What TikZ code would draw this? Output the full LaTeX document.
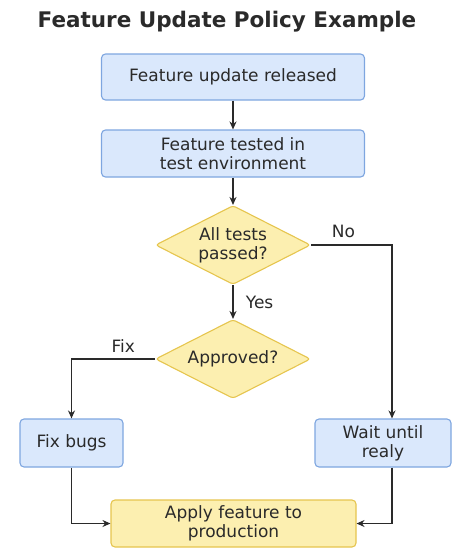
\documentclass[tikz,border=0pt]{standalone}
\usepackage{fontspec}
\setmainfont{DejaVu Sans}
\usetikzlibrary{shapes.geometric,arrows.meta}
\definecolor{boxblue}{HTML}{DAE8FC}
\definecolor{lineblue}{HTML}{7EA6E0}
\definecolor{boxyellow}{HTML}{FCEFB0}
\definecolor{lineyellow}{HTML}{E6C54E}
\definecolor{ink}{HTML}{2A2A2A}

\begin{document}
\begin{tikzpicture}[x=1pt,y=1pt,yscale=-1,
	every node/.style={font=\fontsize{17}{19}\selectfont,text=ink,align=center},
	bluebox/.style={draw=lineblue,fill=boxblue,line width=1.1pt,rounded corners=4pt,inner sep=0pt},
	yellowbox/.style={draw=lineyellow,fill=boxyellow,line width=1.1pt,rounded corners=4pt,inner sep=0pt},
	decision/.style={diamond,aspect=2,draw=lineyellow,fill=boxyellow,line width=1.1pt,rounded corners=3pt,inner sep=0pt,minimum width=155pt,minimum height=79pt},
	arr/.style={draw=ink,line width=1.1pt,-{Stealth[length=8pt,width=7pt]}},
	lbl/.style={font=\fontsize{17}{19}\selectfont}]
		\useasboundingbox (0,0) rectangle (467,555);
		
		\node (title) at (227,22) {\fontsize{21.5}{24}\selectfont\bfseries Feature Update Policy Example};
		
		\node[bluebox,minimum width=263pt,minimum height=46pt] (released) at (233,77) {Feature update released};
		\node[bluebox,minimum width=263pt,minimum height=47pt] (tested) at (233,153.5) {Feature tested in\\test environment};
		\node[decision] (passed) at (233,245) {All tests\\passed?};
		\node[decision] (approved) at (233,359) {Approved?};
		\node[bluebox,minimum width=103pt,minimum height=48pt] (fixbugs) at (71.5,443) {Fix bugs};
		\node[bluebox,minimum width=136pt,minimum height=48pt] (wait) at (383,443) {Wait until\\realy};
		\node[yellowbox,minimum width=245pt,minimum height=47pt] (apply) at (233.5,523.5) {Apply feature to\\production};
		
		\draw[arr] (released) -- (tested);
		\draw[arr] (tested) -- (passed);
		\draw[arr] (passed) -- node[lbl,right=9pt] {Yes} (approved);
		\draw[arr] (passed.east) -| node[lbl,pos=0.2,above=3pt] {No} ([xshift=9pt]wait.north);
		\draw[arr] (approved.west) -| node[lbl,pos=0.19,above=3pt] {Fix} (fixbugs.north);
		\draw[arr] (fixbugs.south) |- (apply.west);
		\draw[arr] ([xshift=9pt]wait.south) |- (apply.east);
\end{tikzpicture}
\end{document}
